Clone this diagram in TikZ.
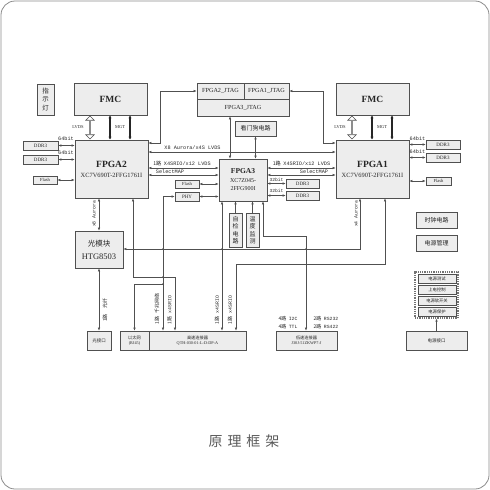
\documentclass[tikz,border=0pt]{standalone}
\usepackage{fontspec}
\setmainfont{Liberation Serif}
\newfontfamily\cjk{Noto Sans CJK SC}
\newfontfamily\mono{Liberation Mono}
\usetikzlibrary{arrows.meta,shapes.arrows}
\definecolor{ln}{HTML}{505050}
\definecolor{bx}{HTML}{EDEDED}
\newcommand\fsz[2]{\fontsize{#1}{#2}\selectfont}
\tikzset{
 box/.style={draw=ln, fill=bx, line width=0.6pt, inner sep=0pt, align=center, text=black!85},
 con/.style={draw=ln, line width=0.5pt, {Latex[length=3pt,width=2.4pt]}-{Latex[length=3pt,width=2.4pt]}},
 con1/.style={draw=ln, line width=0.5pt, -{Latex[length=3pt,width=2.4pt]}},
 mgt/.style={draw=black!85, line width=1.1pt, {Latex[length=3pt,width=3.2pt]}-{Latex[length=3pt,width=3.2pt]}},
 lvds/.style={double arrow, draw=ln, fill=white, line width=0.6pt, rotate=90, minimum height=23pt, minimum width=8.5pt, double arrow head extend=2pt, inner sep=0pt},
 lbl/.style={inner sep=0pt, text=black!85},
 jdot/.style={fill=ln, circle, inner sep=0pt, minimum size=1.6pt}
}
\begin{document}
\begin{tikzpicture}[x=1pt,y=-1pt]
\useasboundingbox (0,0) rectangle (490,490);
\draw[draw=black!45, line width=0.8pt, rounded corners=14pt] (1,1) rectangle (489,489);

% top row
\node[box, minimum width=17pt, minimum height=31pt, font=\cjk\fsz{6.5}{8.5}] (led) at (45.5,99.5) {指\\示\\灯};
\node[box, minimum width=73pt, minimum height=32pt] (fmcL) at (110.5,99) {\fsz{9.5}{10}\bfseries FMC};
\node[box, minimum width=73pt, minimum height=32pt] (fmcR) at (372.5,99) {\fsz{9.5}{10}\bfseries FMC};
\node[box, minimum width=47pt, minimum height=16pt] (jtag2) at (220.5,91) {\fsz{6.2}{7}FPGA2\_JTAG};
\node[box, minimum width=45pt, minimum height=16pt] (jtag1) at (266.5,91) {\fsz{6.2}{7}FPGA1\_JTAG};
\node[box, minimum width=92pt, minimum height=17pt] (jtag3) at (243,107.5) {\fsz{6.2}{7}FPGA3\_JTAG};
\node[box, minimum width=41pt, minimum height=15pt] (wdog) at (255.5,128.5) {\cjk\fsz{6}{7}看门狗电路};

% FPGAs
\node[box, minimum width=73pt, minimum height=58pt, font=\fsz{6.4}{10}] (fpga2) at (111.5,169) {{\fsz{9.5}{11}\bfseries FPGA2}\\XC7V690T-2FFG1761I};
\node[box, minimum width=73pt, minimum height=58pt, font=\fsz{6.4}{10}] (fpga1) at (372.5,169) {{\fsz{9.5}{11}\bfseries FPGA1}\\XC7V690T-2FFG1761I};
\node[box, minimum width=48pt, minimum height=42pt, font=\fsz{6}{8.5}] (fpga3) at (243,180) {{\fsz{7.5}{8}\bfseries FPGA3}\\XC7Z045-\\2FFG900I};

% small peripherals
\node[box, minimum width=35pt, minimum height=9pt] (ddrL1) at (40.5,145.5) {\fsz{5}{5}DDR3};
\node[box, minimum width=35pt, minimum height=9pt] (ddrL2) at (40.5,159.5) {\fsz{5}{5}DDR3};
\node[box, minimum width=24pt, minimum height=8pt] (flashL) at (45,180) {\fsz{4.6}{5}Flash};
\node[box, minimum width=34pt, minimum height=9pt] (ddrR1) at (443,144.5) {\fsz{5}{5}DDR3};
\node[box, minimum width=34pt, minimum height=9pt] (ddrR2) at (443,157.5) {\fsz{5}{5}DDR3};
\node[box, minimum width=25pt, minimum height=8pt] (flashR) at (438.5,181) {\fsz{4.6}{5}Flash};
\node[box, minimum width=24pt, minimum height=8pt] (flashM) at (187,184) {\fsz{4.6}{5}Flash};
\node[box, minimum width=24pt, minimum height=9pt] (phy) at (187,196.5) {\fsz{5}{5}PHY};
\node[box, minimum width=33pt, minimum height=9pt] (ddrM1) at (302.5,183.5) {\fsz{5}{5}DDR3};
\node[box, minimum width=33pt, minimum height=9pt] (ddrM2) at (302.5,195.5) {\fsz{5}{5}DDR3};
\node[box, minimum width=13pt, minimum height=34pt, font=\cjk\fsz{6}{7.5}] (selftest) at (235.5,230) {自\\检\\电\\路};
\node[box, minimum width=13pt, minimum height=34pt, font=\cjk\fsz{6}{7.5}] (temp) at (252.5,230) {温\\度\\监\\测};

% lower blocks
\node[box, minimum width=48pt, minimum height=37pt] (optmod) at (99,249.5) {{\cjk\fsz{7.5}{9}光模块}\\[1pt]{\fsz{8.5}{9}HTG8503}};
\node[box, minimum width=24pt, minimum height=19pt] (optport) at (99,340.5) {\cjk\fsz{4.5}{5}光接口};
\node[box, minimum width=29pt, minimum height=19pt, font=\fsz{4.2}{5.5}] (eth) at (134.5,340.5) {{\cjk 以太网}\\(RJ45)};
\node[box, minimum width=97pt, minimum height=19pt, font=\fsz{4.2}{5.5}] (hsconn) at (197.5,340.5) {{\cjk 高速连接器}\\QTH-030-01-L-D-DP-A};
\node[box, minimum width=61pt, minimum height=19pt, font=\fsz{4.2}{5.5}] (lsconn) at (306.5,340.5) {{\cjk 低速连接器}\\J30J-51ZKWP7-J};
\node[box, minimum width=61pt, minimum height=19pt] (pwrport) at (436.5,340.5) {\cjk\fsz{4.5}{5}电源接口};

% right side
\node[box, minimum width=41pt, minimum height=16pt] (clk) at (436.5,220) {\cjk\fsz{6}{7}时钟电路};
\node[box, minimum width=41pt, minimum height=16pt] (pwrm) at (436.5,243) {\cjk\fsz{6}{7}电源管理};
\node[draw=black!55, fill=white, line width=1.3pt, dash pattern=on 1pt off 0.8pt, minimum width=43pt, minimum height=46pt, inner sep=0pt] (pwrgrp) at (436.5,295) {};
\node[box, minimum width=38pt, minimum height=9pt] (pt1) at (437,278.5) {\cjk\fsz{4.3}{5}电源测试};
\node[box, minimum width=38pt, minimum height=9pt] (pt2) at (437,289.5) {\cjk\fsz{4.3}{5}上电控制};
\node[box, minimum width=38pt, minimum height=9pt] (pt3) at (437,300.5) {\cjk\fsz{4.3}{5}电源软开关};
\node[box, minimum width=38pt, minimum height=9pt] (pt4) at (437,311.5) {\cjk\fsz{4.3}{5}电源保护};

% FMC links
\node[lvds] (lvL) at (90,127.5) {};
\node[lvds] (lvR) at (352,127.5) {};
\draw[mgt] (fmcL.south -| 110,0) -- (fpga2.north -| 110,0);
\draw[mgt] (fmcL.south -| 130,0) -- (fpga2.north -| 130,0);
\draw[mgt] (fmcR.south -| 372,0) -- (fpga1.north -| 372,0);
\draw[mgt] (fmcR.south -| 392,0) -- (fpga1.north -| 392,0);
\node[lbl] (tLvL) at (78,127) {\fsz{4.5}{5}LVDS};
\node[lbl] (tMgL) at (120,127) {\fsz{4.5}{5}MGT};
\node[lbl] (tLvR) at (340,127) {\fsz{4.5}{5}LVDS};
\node[lbl] (tMgR) at (382,127) {\fsz{4.5}{5}MGT};

% DDR / Flash links
\draw[con] (ddrL1.east) -- (ddrL1.east -| fpga2.west);
\draw[con] (ddrL2.east) -- (ddrL2.east -| fpga2.west);
\draw[con] (flashL.east) -- (flashL.east -| fpga2.west);
\draw[con] (fpga1.east |- ddrR1.west) -- (ddrR1.west);
\draw[con] (fpga1.east |- ddrR2.west) -- (ddrR2.west);
\draw[con] (fpga1.east |- flashR.west) -- (flashR.west);
\draw[con] (flashM.east) -- (fpga3.west |- flashM.east);
\draw[con] (phy.east) -- (fpga3.west |- phy.east);
\draw[con] (fpga3.east |- ddrM1.west) -- (ddrM1.west);
\draw[con] (fpga3.east |- ddrM2.west) -- (ddrM2.west);
\node[lbl] (b1) at (66,139) {\mono\fsz{5.2}{5}64bit};
\node[lbl] (b2) at (66,152.5) {\mono\fsz{5.2}{5}64bit};
\node[lbl] (b3) at (417.5,138.5) {\mono\fsz{5.2}{5}64bit};
\node[lbl] (b4) at (417.5,151.5) {\mono\fsz{5.2}{5}64bit};
\node[lbl] (b5) at (276.5,179.5) {\mono\fsz{4.6}{5}32bit};
\node[lbl] (b6) at (276.5,191) {\mono\fsz{4.6}{5}32bit};

% JTAG / watchdog
\draw[con] (fpga2.east |- 0,143) -- (160,143) -- (160,91) -- (jtag2.west);
\draw[con] (jtag1.east) -- (323,91) -- (323,143) -- (fpga1.west |- 0,143);
\draw[con] (jtag3.south -| 230,0) -- (fpga3.north -| 230,0);
\draw[con] (wdog.south) -- (fpga3.north -| wdog.south);

% FPGA interconnect
\draw[con] (fpga2.east |- 0,152) -- (fpga1.west |- 0,152);
\draw[con] (fpga2.east |- 0,168) -- (fpga3.west |- 0,168);
\draw[con] (fpga2.east |- 0,175) -- (fpga3.west |- 0,175);
\draw[con] (fpga3.east |- 0,168) -- (fpga1.west |- 0,168);
\draw[con] (fpga3.east |- 0,175) -- (fpga1.west |- 0,175);
\node[lbl] (l1) at (192.5,148) {\mono\fsz{5.2}{5}X8 Aurora/x4S LVDS};
\node[lbl] (l2) at (182,164) {{\cjk\fsz{5.2}{5}1路} \mono\fsz{5.2}{5}X4SRIO/x12 LVDS};
\node[lbl] (l3) at (170,172) {\mono\fsz{5.2}{5}SelectMAP};
\node[lbl] (l4) at (301.5,164) {{\cjk\fsz{5.2}{5}1路} \mono\fsz{5.2}{5}X4SRIO/x12 LVDS};
\node[lbl] (l5) at (314,172) {\mono\fsz{5.2}{5}SelectMAP};

% lower links
\draw[con] (fpga2.south -| 99,0) -- (optmod.north);
\draw[con] (optmod.south) -- (optport.north);
\draw[con] (fpga2.south -| 133,0) -- (133,277) -- (175,277) -- (hsconn.north -| 175,0);
\draw[con] (phy.west) -- (163,196.5) -- (hsconn.north -| 163,0);
\coordinate (ej) at (163,284);
\draw[con1] (ej) -- (134.5,284) -- (eth.north);
\draw[con] (fpga3.south -| 222,0) -- (hsconn.north -| 222,0);
\draw[con] (fpga1.south -| 385,0) -- (385,264) -- (236,264) -- (hsconn.north -| 236,0);
\draw[con] (fpga3.south -| 263,0) -- (263,236) -- (306,236) -- (lsconn.north -| 306,0);
\draw[con] (fpga1.south -| 360,0) -- (360,249) -- (optmod.east |- 0,249);
\draw[con1] (selftest.north) -- (fpga3.south -| selftest.north);
\draw[con1] (temp.north) -- (fpga3.south -| temp.north);
\draw[con1] (pwrport.north) -- (pwrgrp.south);
\node[jdot] (d1) at (163,249) {};
\node[jdot] (d2) at (222,249) {};
\node[jdot] (d3) at (306,249) {};
\node[jdot] (d4) at (163,277) {};
\node[jdot] (d5) at (163,284) {};

\node[lbl, rotate=90] (v1) at (94,214) {\mono\fsz{4.8}{5}x8 Aurora};
\node[lbl, rotate=90] (v2) at (356,214) {\mono\fsz{4.8}{5}x4 Aurora};
\node[lbl, rotate=90] (v3) at (105,310) {\cjk\fsz{5}{5}1路\hspace{6pt}光纤};
\node[lbl, rotate=90] (v4) at (157,309) {\cjk\fsz{5}{5}1路\hspace{3pt}千兆网络};
\node[lbl, rotate=90] (v5) at (169.5,310) {{\cjk\fsz{5}{5}1路}\hspace{3pt}\mono\fsz{4.8}{5}x4SRIO};
\node[lbl, rotate=90] (v6) at (217,310) {{\cjk\fsz{5}{5}1路}\hspace{3pt}\mono\fsz{4.8}{5}x4SRIO};
\node[lbl, rotate=90] (v7) at (230,310) {{\cjk\fsz{5}{5}1路}\hspace{3pt}\mono\fsz{4.8}{5}x4SRIO};
\node[lbl] (s1) at (288,319) {{\cjk\fsz{5}{5}4路} \mono\fsz{4.8}{5}I2C};
\node[lbl] (s2) at (326,319) {{\cjk\fsz{5}{5}2路} \mono\fsz{4.8}{5}RS232};
\node[lbl] (s3) at (288,327) {{\cjk\fsz{5}{5}4路} \mono\fsz{4.8}{5}TTL};
\node[lbl] (s4) at (326,327) {{\cjk\fsz{5}{5}2路} \mono\fsz{4.8}{5}RS422};

% caption
\node[text=black!65] (cap) at (244,441) {\cjk\fsz{14}{14}原\hspace{5pt}理\hspace{5pt}框\hspace{5pt}架};
\end{tikzpicture}
\end{document}
